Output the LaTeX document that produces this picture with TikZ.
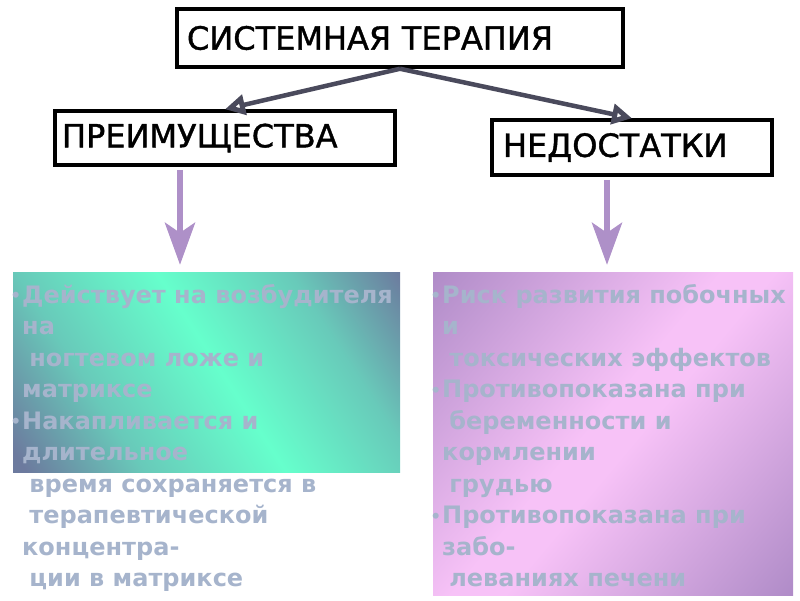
\documentclass[tikz,border=0pt]{standalone}
\usepackage{fontspec}
\setmainfont{DejaVu Sans}
\usetikzlibrary{arrows.meta,positioning}

\definecolor{slate}{HTML}{6C7A9E}
\definecolor{aqua}{HTML}{66FFCC}
\definecolor{purp}{HTML}{B08CC8}
\definecolor{pinkl}{HTML}{F7C2F7}
\definecolor{itemgray}{HTML}{A6B4CC}
\definecolor{linkgray}{HTML}{4A4A5C}
\definecolor{lilac}{HTML}{AE90C8}

% diagonal fills of the two lists
\pgfdeclarehorizontalshading{prosshading}{100bp}{color(0bp)=(slate); color(17bp)=(slate);
  color(33bp)=(slate!40!aqua); color(52bp)=(aqua); color(70bp)=(slate!40!aqua);
  color(85bp)=(slate); color(100bp)=(slate)}
\pgfdeclarehorizontalshading{consshading}{100bp}{color(0bp)=(purp); color(15bp)=(purp);
  color(47bp)=(pinkl); color(53bp)=(pinkl); color(85bp)=(purp); color(100bp)=(purp)}

\newcommand{\itm}{\llap{\raisebox{1.5pt}{\fontsize{17}{17}\selectfont•}\hspace{1pt}}}

\tikzset{
  heading/.style={draw=black, line width=3.5pt, inner sep=0pt, align=left,
    font=\fontsize{32}{36}\selectfont\addfontfeature{FakeBold=1.2}},
  link/.style={draw=linkgray, line width=4.5pt,
    -{Triangle[open, length=20pt, width=20pt, line width=6pt]}},
  down/.style={draw=lilac, line width=6pt, shorten <=3pt, shorten >=7pt,
    -{Stealth[length=42pt, width=30pt, inset=10pt]}},
  items/.style={inner sep=0pt, align=left, text=itemgray,
    font=\bfseries\fontsize{24}{31.5}\selectfont}
}

\begin{document}
\begin{tikzpicture}[x=1pt,y=-1pt]
  \useasboundingbox (0,0) rectangle (800,600);

  % headings
  \node[heading, minimum width=446pt, minimum height=58pt, text width=426pt]
    (sys) at (400,38) {СИСТЕМНАЯ ТЕРАПИЯ};
  \node[heading, minimum width=340pt, minimum height=54pt, text width=326pt]
    (pros) at (225,138) {ПРЕИМУЩЕСТВА};
  \node[heading, minimum width=280pt, minimum height=55pt, text width=258pt]
    (cons) at (632,147.5) {НЕДОСТАТКИ};

  \draw[link] (sys.south) -- (pros.north);
  \draw[link] (sys.south) -- (cons.north);

  % shaded boxes
  \node[minimum width=387pt, minimum height=200pt, inner sep=0pt,
    shading=prosshading, shading angle=33]
    (prosbox) at (206.5,372) {};
  \node[minimum width=360pt, minimum height=323pt, inner sep=0pt,
    shading=consshading, shading angle=-40]
    (consbox) at (613,433.5) {};

  \coordinate (pa) at (180,0);
  \coordinate (ca) at (607,0);
  \draw[down] (pa |- pros.south) -- (pa |- prosbox.north);
  \draw[down] (ca |- cons.south) -- (ca |- consbox.north);

  % lists
  \node[items, anchor=north west] (prostext) at (22,284) {%
    \itm Действует на возбудителя\\
    на\\
    \hspace*{0.3em}ногтевом ложе и\\
    матриксе\\
    \itm Накапливается и\\
    длительное\\
    \hspace*{0.3em}время сохраняется в\\
    \hspace*{0.3em}терапевтической\\
    концентра-\\
    \hspace*{0.3em}ции в матриксе};
  \node[items, anchor=north west] (constext) at (442,284) {%
    \itm Риск развития побочных\\
    и\\
    \hspace*{0.3em}токсических эффектов\\
    \itm Противопоказана при\\
    \hspace*{0.3em}беременности и\\
    кормлении\\
    \hspace*{0.3em}грудью\\
    \itm Противопоказана при\\
    забо-\\
    \hspace*{0.3em}леваниях печени};
\end{tikzpicture}
\end{document}
